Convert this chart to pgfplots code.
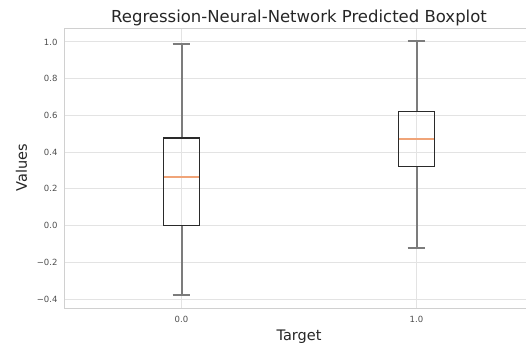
\documentclass[border=0pt]{standalone}
\usepackage{pgfplots}
\pgfplotsset{compat=1.18}
\usepgfplotslibrary{statistics}
\usepackage{fontspec}
\setmainfont{DejaVu Sans}
\definecolor{gridc}{HTML}{E3E3E3}
\definecolor{spinec}{HTML}{D0D0D0}
\definecolor{tickc}{HTML}{4D4D4D}
\definecolor{textc}{HTML}{262626}
\definecolor{whiskc}{HTML}{7C7C7C}
\definecolor{boxc}{HTML}{2A2A2A}
\definecolor{medc}{HTML}{F0A478}
\begin{document}
\begin{tikzpicture}[x=1pt,y=1pt]
\begin{axis}[
  at={(0,0)}, anchor=south west,
  scale only axis, width=470pt, height=280pt,
  xmin=-0.5, xmax=1.5, ymin=-0.449, ymax=1.076,
  xtick={0,1}, xticklabels={0.0,1.0},
  ytick={-0.4,-0.2,0,0.2,0.4,0.6,0.8,1.0},
  yticklabels={−0.4,−0.2,0.0,0.2,0.4,0.6,0.8,1.0},
  grid=major, major grid style={draw=gridc, line width=0.9pt},
  axis line style={draw=spinec, line width=0.9pt},
  major tick length=0pt, tick style={draw=none},
  tick label style={font=\fontsize{8.5}{10}\selectfont, text=tickc},
  yticklabel style={xshift=-3pt},
  xticklabel style={yshift=-5pt},
  title={Regression-Neural-Network Predicted Boxplot},
  title style={font=\fontsize{16.5}{18}\selectfont, text=textc, yshift=-7pt},
  xlabel={Target}, ylabel={Values},
  label style={font=\fontsize{14.5}{16}\selectfont, text=textc},
  xlabel style={yshift=0pt},
  ylabel style={yshift=3pt},
  boxplot/draw direction=y,
]
\addplot[mark=none, draw=boxc, line width=1.15pt,
  boxplot/every whisker/.style={draw=whiskc, line width=2.0pt},
  boxplot/every median/.style={draw=medc, line width=1.7pt},
  boxplot prepared={
  lower whisker=-0.380, lower quartile=0.000, median=0.263,
  upper quartile=0.477, upper whisker=0.989,
  draw position=0, box extend=0.15, whisker extend=0.075}]
  coordinates {};
\addplot[mark=none, draw=boxc, line width=1.15pt,
  boxplot/every whisker/.style={draw=whiskc, line width=2.0pt},
  boxplot/every median/.style={draw=medc, line width=1.7pt},
  boxplot prepared={
  lower whisker=-0.121, lower quartile=0.320, median=0.471,
  upper quartile=0.623, upper whisker=1.005,
  draw position=1, box extend=0.15, whisker extend=0.075}]
  coordinates {};
\end{axis}
\pgfresetboundingbox
\path[use as bounding box] (-64,-37) rectangle (462,308);
\end{tikzpicture}
\end{document}
